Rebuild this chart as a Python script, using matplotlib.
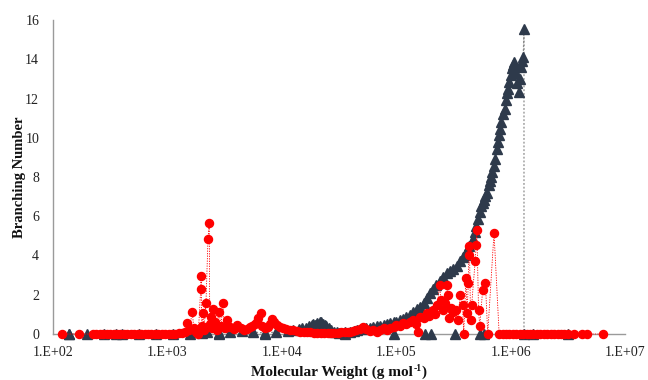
import matplotlib
matplotlib.use("Agg")
import matplotlib.pyplot as plt
import numpy as np

# ---------------- data (log10 of molecular weight, branching number) ----------------
# dark series (triangles) - main curve
dark_logmw = [2.14, 2.30, 2.45, 2.60, 2.75, 2.90, 3.05, 3.20, 3.30, 3.35, 3.45, 3.55, 3.65,
              3.75, 3.85, 3.95, 4.05, 4.10, 4.15, 4.18, 4.21, 4.24, 4.26, 4.275, 4.29, 4.31,
              4.33, 4.34, 4.36, 4.38, 4.39, 4.41, 4.43, 4.46, 4.48,
              4.50, 4.55, 4.60, 4.63, 4.66, 4.70, 4.74, 4.77, 4.80, 4.83, 4.86, 4.89, 4.92,
              4.95, 4.98, 5.00, 5.03, 5.06, 5.09, 5.12, 5.15, 5.18, 5.21, 5.24, 5.27, 5.295,
              5.32, 5.35, 5.38, 5.41, 5.44, 5.47, 5.50, 5.53, 5.56, 5.58, 5.60, 5.62, 5.64,
              5.66, 5.674, 5.69, 5.70, 5.718, 5.73, 5.745, 5.761, 5.77, 5.78, 5.79, 5.81,
              5.82, 5.83, 5.84, 5.855, 5.865, 5.88, 5.89, 5.90, 5.91, 5.92, 5.935, 5.95,
              5.96, 5.97, 5.98, 5.99, 6.00, 6.01, 6.02, 6.03, 6.05, 6.06, 6.07, 6.08, 6.09,
              6.10, 6.111, 6.117, 6.117]
dark_bn = [0.0, 0.0, 0.0, 0.0, 0.0, 0.0, 0.0, 0.0, 0.05, 0.10, 0.05, 0.10, 0.15,
           0.10, 0.05, 0.10, 0.15, 0.20, 0.25, 0.30, 0.29, 0.40, 0.46, 0.50, 0.46, 0.55,
           0.63, 0.60, 0.50, 0.46, 0.41, 0.30, 0.20, 0.10, 0.08,
           0.05, 0.08, 0.12, 0.15, 0.20, 0.25, 0.29, 0.33, 0.36, 0.40, 0.43, 0.46, 0.52,
           0.56, 0.60, 0.63, 0.70, 0.78, 0.88, 0.97, 1.10, 1.25, 1.40, 1.60, 1.85, 2.09,
           2.30, 2.50, 2.68, 2.90, 3.10, 3.20, 3.30, 3.45, 3.70, 3.90, 4.05, 4.30, 4.50,
           4.70, 4.82, 5.20, 5.50, 5.85, 6.20, 6.50, 6.70, 6.85, 7.05, 7.21, 7.60,
           7.81, 8.00, 8.24, 8.58, 8.92, 9.44, 9.80, 10.12, 10.46, 10.80, 11.20, 11.49,
           11.90, 12.30, 12.50, 12.86, 13.20, 13.54, 13.70, 13.88, 13.30, 12.77, 12.34,
           13.00, 13.60, 13.90, 14.14, 15.55, 0.0]
# dark series - isolated points on the baseline
dark_zero_logmw = [2.14, 2.55, 3.45, 3.85, 4.55, 4.98, 5.25, 5.30, 5.51, 5.73, 5.77, 6.20, 6.50]
dark_zero_bn = [0.0] * len(dark_zero_logmw)

# red series (circles)
red_logmw = [2.08, 2.23, 2.35, 2.38, 2.41, 2.44, 2.47, 2.50, 2.53, 2.56, 2.59, 2.62, 2.65,
             2.68, 2.71, 2.74, 2.77, 2.80, 2.83, 2.86, 2.89, 2.92, 2.95, 2.98, 3.01, 3.04,
             3.07, 3.10, 3.13, 3.15, 3.174, 3.19, 3.218, 3.23, 3.25, 3.27, 3.291, 3.295,
             3.30, 3.314, 3.32, 3.337, 3.355, 3.366, 3.37, 3.38, 3.39, 3.40, 3.42, 3.43,
             3.45, 3.47, 3.483, 3.50, 3.52, 3.55, 3.58, 3.61, 3.64, 3.67, 3.70, 3.72,
             3.74, 3.766, 3.78, 3.795, 3.815, 3.83, 3.85, 3.88, 3.90, 3.917, 3.935, 3.955,
             3.98, 4.01, 4.04, 4.07, 4.10, 4.13, 4.16, 4.19, 4.22, 4.25, 4.28, 4.31, 4.34,
             4.37, 4.40, 4.43, 4.46, 4.49, 4.52, 4.55, 4.58, 4.60, 4.62, 4.65, 4.68, 4.71,
             4.74, 4.77, 4.80, 4.83, 4.86, 4.89, 4.92, 4.95, 4.98, 5.00, 5.03, 5.06, 5.09,
             5.12, 5.15, 5.17, 5.19, 5.21, 5.24, 5.27, 5.29, 5.32, 5.34, 5.36, 5.38, 5.39,
             5.41, 5.43, 5.44, 5.45, 5.46, 5.48, 5.50, 5.52, 5.54, 5.56, 5.58, 5.59, 5.61,
             5.62, 5.63, 5.635, 5.64, 5.65, 5.66, 5.69, 5.70, 5.705, 5.72, 5.73, 5.756,
             5.78, 5.80, 5.855, 5.90, 5.93, 5.96, 5.99, 6.02, 6.05, 6.08, 6.11, 6.14,
             6.17, 6.20, 6.23, 6.26, 6.29, 6.32, 6.35, 6.38, 6.41, 6.44, 6.47, 6.50,
             6.55, 6.62, 6.67, 6.81]
red_bn = [0.0, 0.0, 0.0, 0.0, 0.0, 0.0, 0.0, 0.0, 0.0, 0.0, 0.0, 0.0, 0.0,
          0.0, 0.0, 0.0, 0.0, 0.0, 0.0, 0.0, 0.0, 0.0, 0.0, 0.0, 0.0, 0.0,
          0.0, 0.05, 0.05, 0.10, 0.55, 0.20, 1.13, 0.30, 0.10, 0.0, 2.29, 2.94,
          0.40, 1.06, 0.20, 1.57, 4.86, 5.68, 0.50, 0.89, 0.30, 1.27, 0.63, 0.20,
          1.14, 0.40, 1.57, 0.30, 0.72, 0.35, 0.25, 0.46, 0.30, 0.20, 0.25, 0.37,
          0.40, 0.51, 0.60, 0.80, 1.09, 0.40, 0.30, 0.35, 0.50, 0.77, 0.60, 0.46,
          0.35, 0.29, 0.25, 0.20, 0.18, 0.15, 0.12, 0.10, 0.08, 0.08, 0.06, 0.05, 0.05,
          0.05, 0.05, 0.05, 0.06, 0.07, 0.08, 0.08, 0.10, 0.10, 0.15, 0.20, 0.25, 0.37,
          0.25, 0.15, 0.20, 0.10, 0.20, 0.29, 0.20, 0.30, 0.35, 0.46, 0.40, 0.55, 0.50,
          0.63, 0.70, 0.50, 0.10, 0.89, 0.80, 1.06, 0.90, 1.23, 1.00, 1.50, 2.51, 1.74,
          1.20, 1.57, 2.51, 2.00, 0.80, 1.30, 1.10, 1.23, 0.70, 2.00, 1.50, 0.0, 2.86,
          1.06, 2.60, 4.05, 4.48, 0.72, 1.50, 3.71, 4.56, 5.30, 1.20, 0.40, 2.26,
          2.60, 0.0, 5.16, 0.0, 0.0, 0.0, 0.0, 0.0, 0.0, 0.0, 0.0, 0.0,
          0.0, 0.0, 0.0, 0.0, 0.0, 0.0, 0.0, 0.0, 0.0, 0.0, 0.0, 0.0,
          0.0, 0.0, 0.0, 0.0]

x_ticks = [1e2, 1e3, 1e4, 1e5, 1e6, 1e7]
x_tick_labels = ["1.E+02", "1.E+03", "1.E+04", "1.E+05", "1.E+06", "1.E+07"]
y_ticks = [0, 2, 4, 6, 8, 10, 12, 14, 16]

# ---------------- figure ----------------
plt.rcParams['font.family'] = ['Liberation Serif', 'DejaVu Serif']
W, H = 648, 380
fig = plt.figure(figsize=(W / 100, H / 100), dpi=100)
ax = fig.add_axes([53 / W, 46 / H, 572 / W, 314 / H])

dark = "#2E3A4B"
red = "#FF0000"

dmw = 10 ** np.array(dark_logmw)
ax.plot(dmw, dark_bn, linestyle=(0, (1.5, 1.5)), color="#8C8C8C", linewidth=0.9,
        zorder=2, clip_on=False)
ax.plot(dmw, dark_bn, linestyle="none", marker="^", markersize=7.0, color=dark,
        zorder=3, clip_on=False)
ax.plot(10 ** np.array(dark_zero_logmw), dark_zero_bn, linestyle="none", marker="^",
        markersize=7.0, color=dark, zorder=3, clip_on=False)

rmw = 10 ** np.array(red_logmw)
ax.plot(rmw, red_bn, linestyle=(0, (1.5, 1.5)), color=red, linewidth=0.6, zorder=4,
        clip_on=False)
ax.plot(rmw, red_bn, linestyle="none", marker="o", markersize=5.8, color=red,
        zorder=5, clip_on=False)

ax.set_xscale("log")
ax.set_xlim(1e2, 1e7)
ax.set_ylim(0, 16)
ax.set_xticks(x_ticks)
ax.set_xticklabels(x_tick_labels)
ax.xaxis.set_minor_locator(matplotlib.ticker.NullLocator())
ax.set_yticks(y_ticks)
ax.tick_params(axis="both", length=0, labelsize=10, colors="#222222")
ax.tick_params(axis="x", pad=9)
ax.tick_params(axis="y", pad=10)

for s in ["top", "right"]:
    ax.spines[s].set_visible(False)
for s in ["left", "bottom"]:
    ax.spines[s].set_color("#9A9A9A")
    ax.spines[s].set_linewidth(1.0)
ax.spines["bottom"].set_zorder(1)

# x-axis title built from three pieces: main text, small superscript, closing bracket
kw = dict(fontweight="bold", va="baseline", ha="left", color="#111111")
t1 = fig.text(0, 4 / H, "Molecular Weight (g mol", fontsize=11, **kw)
t2 = fig.text(0, 9 / H, "-1", fontsize=7, **kw)
t3 = fig.text(0, 4 / H, ")", fontsize=11, **kw)
fig.canvas.draw()
r = fig.canvas.get_renderer()
w1 = t1.get_window_extent(r).width
w2 = t2.get_window_extent(r).width
w3 = t3.get_window_extent(r).width
x0 = 339 - (w1 + w2 + w3 + 1) / 2
t1.set_x(x0 / W)
t2.set_x((x0 + w1 + 0.5) / W)
t3.set_x((x0 + w1 + w2 + 1) / W)

ax.set_ylabel("Branching Number", fontsize=10.5, fontweight="bold", labelpad=-1,
              color="#111111")

fig.savefig("out.png", dpi=100, facecolor="white")
